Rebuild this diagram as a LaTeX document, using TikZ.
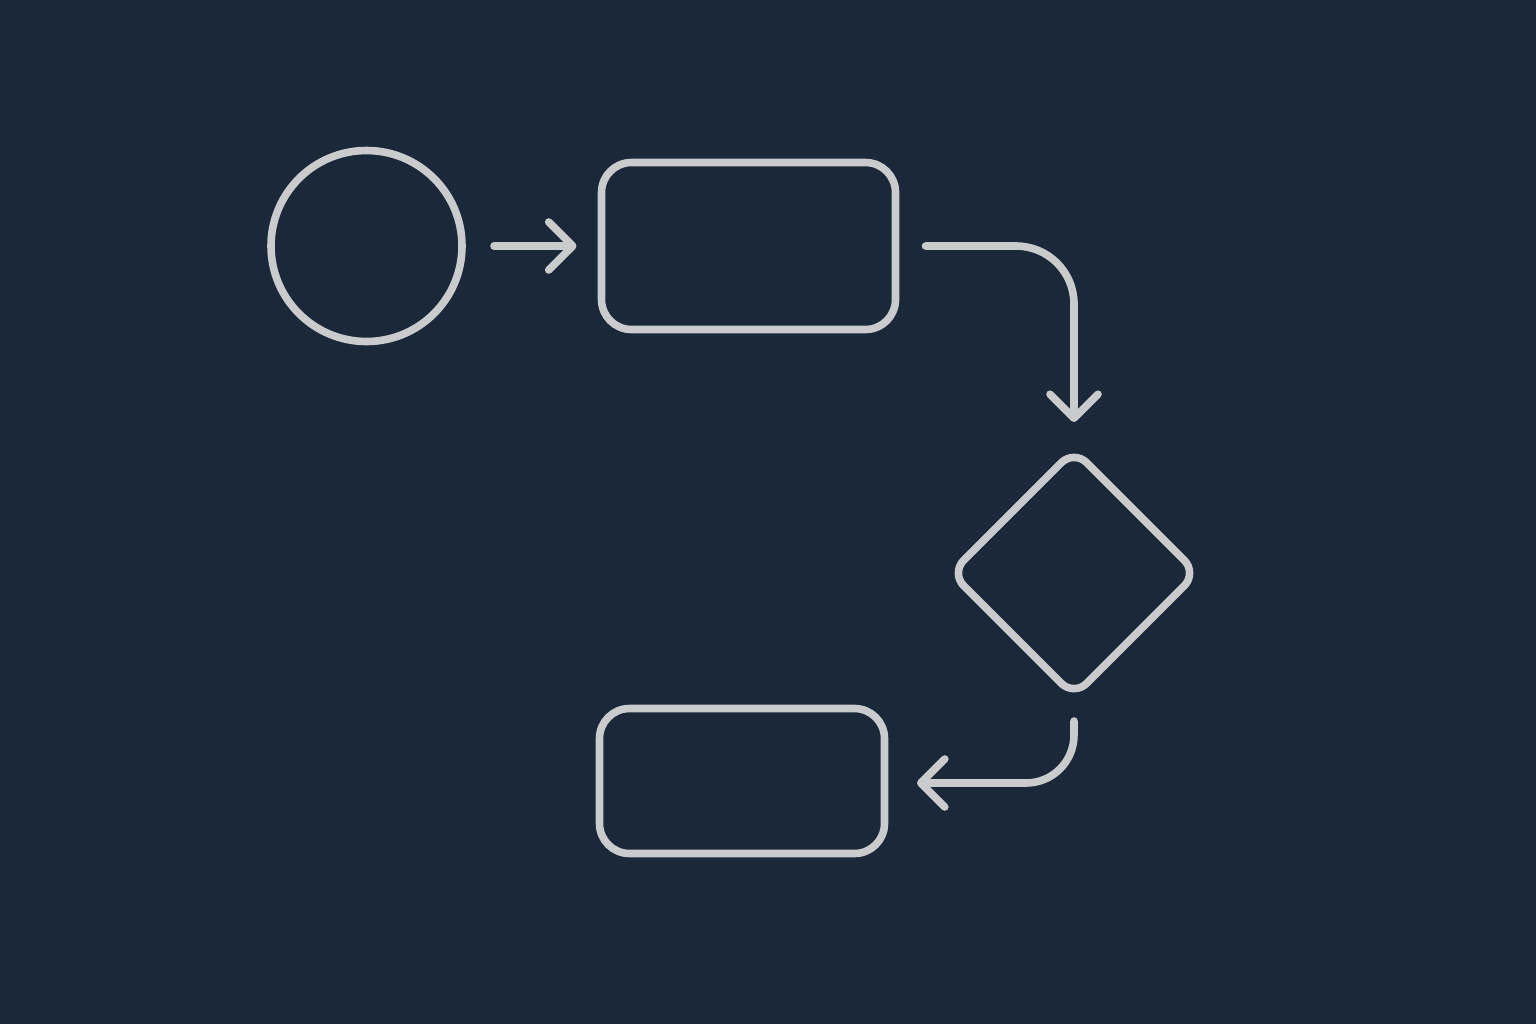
\documentclass[tikz,border=0pt]{standalone}
\usetikzlibrary{arrows.meta}
\definecolor{bgnavy}{HTML}{1B2839}
\definecolor{linegray}{HTML}{C9CBCC}
\begin{document}
\begin{tikzpicture}[x=0.5pt,y=-0.5pt,
  shapeline/.style={draw=linegray,line width=3.8pt,inner sep=0pt,outer sep=0pt},
  roundbox/.style={shapeline,rectangle,rounded corners=15pt},
  conn/.style={draw=linegray,line width=3.8pt,line cap=round,line join=round,
    -{Straight Barb[length=12pt,width=24pt,round]}}]
\fill[bgnavy] (0,0) rectangle (1536,1024);
\useasboundingbox (0,0) rectangle (1536,1024);
\node[shapeline,circle,minimum size=95.5pt] (start) at (366.5,246) {};
\node[roundbox,minimum width=147pt,minimum height=83.5pt] (proc1) at (748.5,246) {};
\node[shapeline,rectangle,rounded corners=9pt,rotate=45,minimum size=87pt] (dec) at (1074,573) {};
\node[roundbox,minimum width=142.5pt,minimum height=72.5pt] (proc2) at (742,781) {};
\coordinate (a1s) at ([xshift=16pt]start.east);
\coordinate (a1e) at ([xshift=-12.5pt]proc1.west);
\coordinate (a2s) at ([xshift=15pt]proc1.east);
\coordinate (a2e) at (1074,422);
\coordinate (a3s) at (1074,721);
\coordinate (a3e) at (917,783);
\draw[conn] (a1s) -- (a1e);
\draw[conn,rounded corners=29pt] (a2s) -| (a2e);
\draw[conn,rounded corners=24pt] (a3s) |- (a3e);
\end{tikzpicture}
\end{document}
